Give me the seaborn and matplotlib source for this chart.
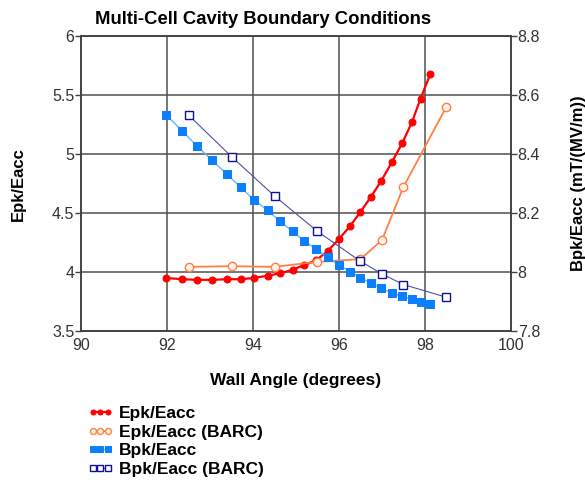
import numpy as np
import pandas as pd
import matplotlib
matplotlib.use('Agg')
import matplotlib.pyplot as plt
import seaborn as sns

# wall angle (degrees) for the computed curves
angle = [91.98, 92.35, 92.70, 93.05, 93.39, 93.71, 94.01, 94.34, 94.63, 94.92, 95.19, 95.47,
         95.74, 96.00, 96.26, 96.50, 96.75, 96.98, 97.23, 97.47, 97.70, 97.90, 98.13]
epk = [3.95, 3.94, 3.935, 3.935, 3.94, 3.94, 3.95, 3.97, 3.99, 4.02, 4.06, 4.10,
       4.18, 4.28, 4.39, 4.51, 4.64, 4.77, 4.93, 5.09, 5.27, 5.47, 5.68]
bpk = [8.532, 8.479, 8.426, 8.379, 8.331, 8.288, 8.246, 8.209, 8.172, 8.138, 8.106, 8.078,
       8.050, 8.024, 8.002, 7.981, 7.962, 7.946, 7.929, 7.918, 7.908, 7.899, 7.893]

# BARC reference points
angle_barc = [92.5, 93.5, 94.5, 95.5, 96.5, 97.0, 97.5, 98.5]
epk_barc = [4.045, 4.05, 4.045, 4.087, 4.11, 4.27, 4.72, 5.40]
bpk_barc = [8.532, 8.391, 8.258, 8.138, 8.037, 7.994, 7.958, 7.915]

sns.set_style('white')
narrow = ['Liberation Sans Narrow', 'Liberation Sans', 'DejaVu Sans']
bold = ['Liberation Sans', 'DejaVu Sans']

fig = plt.figure(figsize=(5.85, 4.87), dpi=100)
ax = fig.add_axes([0.139, 0.320, 0.734, 0.606])
ax2 = ax.twinx()

df = pd.DataFrame({'angle': angle, 'epk': epk, 'bpk': bpk})
dfb = pd.DataFrame({'angle': angle_barc, 'epk': epk_barc, 'bpk': bpk_barc})

sns.lineplot(data=df, x='angle', y='epk', ax=ax, color='#ff0000', lw=1.6,
             marker='o', markersize=5, markeredgecolor='#ff0000', label='Epk/Eacc')
sns.lineplot(data=dfb, x='angle', y='epk', ax=ax, color='#ff8040', lw=1.3,
             marker='o', markersize=6, markerfacecolor='#fff3ee', markeredgecolor='#ff8040',
             markeredgewidth=1.0, label='Epk/Eacc (BARC)')
sns.lineplot(data=df, x='angle', y='bpk', ax=ax2, color='#6ab4ff', lw=1.0,
             marker='s', markersize=6, markerfacecolor='#0a80ff', markeredgecolor='#0a80ff',
             label='Bpk/Eacc')
sns.lineplot(data=dfb, x='angle', y='bpk', ax=ax2, color='#5050a8', lw=0.8,
             marker='s', markersize=6, markerfacecolor='white', markeredgecolor='#101090',
             markeredgewidth=1.0, label='Bpk/Eacc (BARC)')

ax.set_xlim(90, 100)
ax.set_ylim(3.5, 6)
ax2.set_ylim(7.8, 8.8)
ax.set_xticks([90, 92, 94, 96, 98, 100])
ax.set_yticks([3.5, 4, 4.5, 5, 5.5, 6])
ax.set_yticklabels(['3.5', '4', '4.5', '5', '5.5', '6'])
ax2.set_yticks([7.8, 8.0, 8.2, 8.4, 8.6, 8.8])
ax2.set_yticklabels(['7.8', '8', '8.2', '8.4', '8.6', '8.8'])

ax.grid(True, color='#505050', lw=1.1)
ax.set_axisbelow(True)
for a in (ax, ax2):
    for s in a.spines.values():
        s.set_color('#404040')
        s.set_linewidth(1.1)
ax.tick_params(axis='both', length=4, width=1, color='#404040', pad=1, labelsize=11.5, labelcolor='#333333')
ax2.tick_params(axis='y', length=4, width=1, color='#404040', pad=1, labelsize=11.5, labelcolor='#333333')
for lab in ax.get_xticklabels() + ax.get_yticklabels() + ax2.get_yticklabels():
    lab.set_family(narrow)

ax.set_xlabel('Wall Angle (degrees)', fontsize=12.5, fontweight='bold', family=bold,
              labelpad=14, color='black')
ax.set_ylabel('Epk/Eacc', fontsize=12, fontweight='bold', family=bold, labelpad=19, color='black')
ax2.set_ylabel('Bpk/Eacc (mT/(MV/m))', fontsize=12, fontweight='bold', family=bold,
               labelpad=22, color='black')
fig.suptitle('Multi-Cell Cavity Boundary Conditions', x=0.45, y=0.978, fontsize=13.3,
             fontweight='bold', family=bold, color='black')

h1, l1 = ax.get_legend_handles_labels()
h2, l2 = ax2.get_legend_handles_labels()
ax.get_legend().remove()
ax2.get_legend().remove()
fig.legend(h1 + h2, l1 + l2, loc='upper left', bbox_to_anchor=(0.135, 0.184), frameon=False,
           prop={'family': bold, 'weight': 'bold', 'size': 12.5}, markerscale=0.72,
           handlelength=1.45, handletextpad=0.35, labelspacing=0.2, borderpad=0,
           markerfirst=True, numpoints=3, labelcolor='black')

fig.savefig('out.png', dpi=100)
